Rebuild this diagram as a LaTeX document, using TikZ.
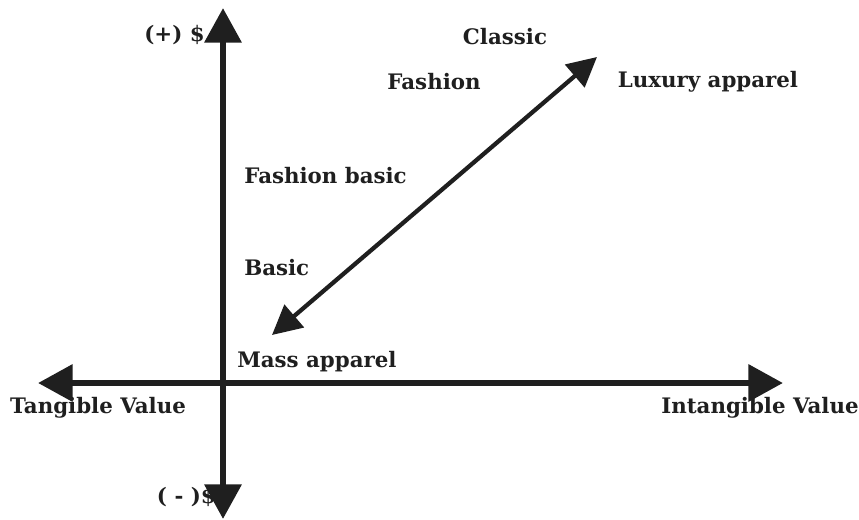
\documentclass[tikz,border=0pt]{standalone}
\usepackage{fontspec}
\setmainfont{DejaVu Serif}
\usetikzlibrary{arrows.meta}
\begin{document}
\begin{tikzpicture}[x=0.75pt,y=-0.75pt,
  axis/.style={line width=5pt,-{Triangle[length=26pt,width=27pt]}},
  diag/.style={line width=3.2pt,{Triangle[length=22pt,width=22pt]}-{Triangle[length=22pt,width=22pt]}},
  lbl/.style={font=\bfseries\fontsize{16pt}{18pt}\selectfont,inner sep=0pt,text=black!88}]
\useasboundingbox (0,0) rectangle (859,519);
\coordinate (O) at (223,383);
\coordinate (top) at (223,8);
\coordinate (bot) at (223,519);
\coordinate (left) at (38,383);
\coordinate (right) at (783,383);
\coordinate (d1) at (272,335);
\coordinate (d2) at (597,57);
\draw[axis,black!88] (O) -- (top);
\draw[axis,black!88] (O) -- (bot);
\draw[axis,black!88] (O) -- (left);
\draw[axis,black!88] (O) -- (right);
\draw[diag,black!88] (d1) -- (d2);
\node[lbl,anchor=east] (plus) at (205,35) {(+) \$};
\node[lbl] (classic) at (505,37) {Classic};
\node[lbl] (fashion) at (434,82) {Fashion};
\node[lbl] (luxury) at (708,82) {Luxury apparel};
\node[lbl,anchor=west] (fbasic) at (244,176) {Fashion basic};
\node[lbl,anchor=west] (basic) at (244,268) {Basic};
\node[lbl,anchor=west] (mass) at (237,362) {Mass apparel};
\node[lbl] (tang) at (98,408) {Tangible Value};
\node[lbl] (intang) at (760,408) {Intangible Value};
\node[lbl,anchor=east] (minus) at (216,497) {( - )\$};
\end{tikzpicture}
\end{document}
